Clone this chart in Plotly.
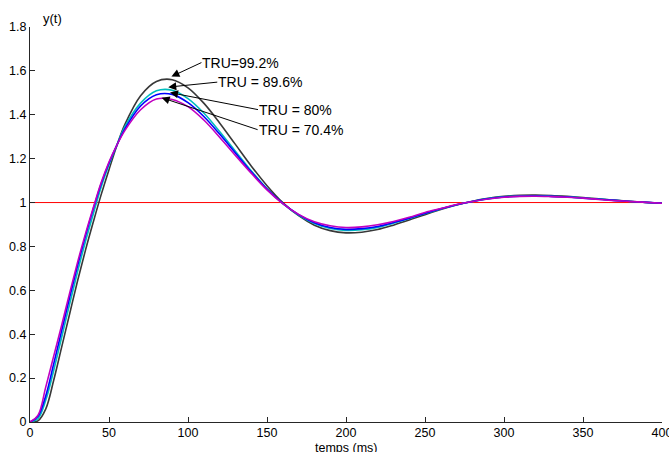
import plotly.graph_objects as go

# time samples (ms)
t = [0, 5, 10, 15, 20, 25, 30, 35, 40, 45, 50, 55,
     60, 70, 80, 90, 100, 110, 120, 130, 140, 150, 160, 170, 180, 190, 200,
     210, 220, 230, 240, 250, 260, 270, 280, 290, 300, 310, 320, 330, 340,
     350, 360, 370, 380, 390, 400]

y_tru_992 = [0, 0.005, 0.06, 0.19, 0.34, 0.49, 0.64, 0.78, 0.91, 1.035, 1.15, 1.26,
             1.355, 1.487, 1.552, 1.560, 1.523, 1.453, 1.363, 1.265, 1.167, 1.077,
             1.000, 0.940, 0.897, 0.872, 0.862, 0.865, 0.877, 0.897, 0.920, 0.945,
             0.968, 0.989, 1.006, 1.019, 1.028, 1.033, 1.034, 1.032, 1.028, 1.023,
             1.017, 1.011, 1.006, 1.001, 0.997]

y_tru_896 = [0, 0.015, 0.10, 0.235, 0.385, 0.535, 0.682, 0.82, 0.947, 1.07, 1.172, 1.262,
             1.345, 1.453, 1.509, 1.512, 1.474, 1.408, 1.324, 1.234, 1.145, 1.063,
             0.995, 0.943, 0.905, 0.882, 0.873, 0.876, 0.887, 0.906, 0.927, 0.950,
             0.971, 0.990, 1.005, 1.018, 1.026, 1.030, 1.031, 1.029, 1.026, 1.021,
             1.016, 1.010, 1.005, 1.001, 0.997]

y_tru_80 = [0, 0.025, 0.12, 0.265, 0.415, 0.565, 0.71, 0.845, 0.97, 1.085, 1.18, 1.262,
            1.335, 1.44, 1.491, 1.493, 1.455, 1.392, 1.312, 1.226, 1.140, 1.061,
            0.996, 0.945, 0.908, 0.886, 0.878, 0.881, 0.891, 0.909, 0.929, 0.951,
            0.972, 0.990, 1.005, 1.017, 1.025, 1.029, 1.030, 1.028, 1.025, 1.020,
            1.015, 1.010, 1.005, 1.001, 0.997]

y_tru_704 = [0, 0.03, 0.16, 0.30, 0.44, 0.585, 0.725, 0.855, 0.975, 1.09, 1.185, 1.262,
             1.328, 1.423, 1.472, 1.470, 1.437, 1.376, 1.298, 1.215, 1.134, 1.058,
             0.995, 0.946, 0.912, 0.894, 0.886, 0.889, 0.899, 0.914, 0.933, 0.955,
             0.973, 0.991, 1.005, 1.016, 1.024, 1.028, 1.029, 1.027, 1.024, 1.020,
             1.014, 1.009, 1.005, 1.001, 0.997]

setpoint = 1.0

labels = ["TRU=99.2%", "TRU = 89.6%", "TRU = 80%", "TRU = 70.4%"]
label_tip_t = [89.5, 87.5, 88.6, 83.3]
label_tip_y = [1.574, 1.526, 1.501, 1.478]

x_ticks = [0, 50, 100, 150, 200, 250, 300, 350, 400]
y_ticks = [0, 0.2, 0.4, 0.6, 0.8, 1, 1.2, 1.4, 1.6, 1.8]

FONT = "Liberation Sans, Arial, Helvetica, sans-serif"
AX = "#262626"

fig = go.Figure()

fig.add_trace(go.Scatter(x=[t[0], t[-1]], y=[setpoint, setpoint], mode="lines",
                         line=dict(color="#FF0000", width=1), showlegend=False,
                         hoverinfo="skip"))

series = [
    (y_tru_992, "#383838"),
    (y_tru_896, "#00BDBD"),
    (y_tru_80, "#0000FF"),
    (y_tru_704, "#C000C0"),
]
for ys, col in series:
    fig.add_trace(go.Scatter(x=t, y=ys, mode="lines",
                             line=dict(color=col, width=1.6, shape="spline", smoothing=1.0),
                             showlegend=False))

offsets = [(30, -14), (49, -5), (88, 17), (96, 32)]
for lab, tx, ty, (ax, ay) in zip(labels, label_tip_t, label_tip_y, offsets):
    fig.add_annotation(x=tx, y=ty, xref="x", yref="y", text=lab,
                       showarrow=True, ax=ax, ay=ay, xanchor="left", yanchor="middle",
                       arrowhead=2, arrowsize=1.6, arrowwidth=1, arrowcolor="black",
                       font=dict(family=FONT, size=14, color="black"), borderpad=0)

fig.add_annotation(x=0.0175, y=1.022, xref="paper", yref="paper", text="y(t)",
                   showarrow=False, xanchor="left", yanchor="middle",
                   font=dict(family=FONT, size=13, color="black"))
fig.add_annotation(x=0.5, y=-0.042, xref="paper", yref="paper", text="temps (ms)",
                   showarrow=False, xanchor="center", yanchor="top",
                   font=dict(family=FONT, size=12.5, color="black"))

fig.update_layout(
    width=669, height=452,
    margin=dict(l=30, r=7, t=27, b=30),
    paper_bgcolor="white", plot_bgcolor="white",
    font=dict(family=FONT, size=12.5, color="black"),
    xaxis=dict(range=[0, 400], tickvals=x_ticks, ticks="inside", ticklen=5,
               tickcolor=AX, showline=True, linecolor=AX, linewidth=1,
               showgrid=False, zeroline=False, mirror=False,
               automargin=False, ticklabeloverflow="allow", ticklabelstandoff=-1),
    yaxis=dict(range=[0, 1.8], tickvals=y_ticks, ticktext=[str(v) for v in y_ticks],
               ticks="inside", ticklen=5, tickcolor=AX, showline=True, linecolor=AX,
               linewidth=1, showgrid=False, zeroline=False, mirror=False,
               automargin=False, ticklabeloverflow="allow"),
)

fig.write_html("out.html", config={"displayModeBar": False},
               post_script="document.body.style.margin='0';document.body.style.overflow='hidden';")
